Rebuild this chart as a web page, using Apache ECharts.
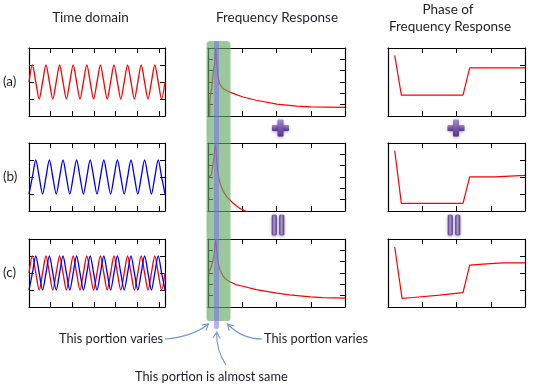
<!DOCTYPE html>
<html><head><meta charset="utf-8">
<script src="https://cdn.jsdelivr.net/npm/echarts@6/dist/echarts.min.js"></script>
<style>html,body{margin:0;padding:0;background:#fff}#c{width:534px;height:388px}</style>
</head><body><div id="c"></div>
<script>
// ---- data ----
const timeT = [0,0.157,0.314,0.471,0.628,0.785,0.942,1.100,1.257,1.414,1.571,1.728,1.885,2.042,2.199,2.356,2.513,2.670,2.827,2.985,3.142,3.299,3.456,3.613,3.770,3.927,4.084,4.241,4.398,4.555,4.712,4.869,5.027,5.184,5.341,5.498,5.655,5.812,5.969,6.126,6.283];
const timeRed  = [0,1,0,-1,0,1,0,-1,0,1,0,-1,0,1,0,-1,0,1,0,-1,0,1,0,-1,0,1,0,-1,0,1,0,-1,0,1,0,-1,0,1,0,-1,0];
const timeBlue = [-1,0,1,0,-1,0,1,0,-1,0,1,0,-1,0,1,0,-1,0,1,0,-1,0,1,0,-1,0,1,0,-1,0,1,0,-1,0,1,0,-1,0,1,0,-1];

const freqA_x = [0.05,0.058,0.108,0.146,0.195,0.224,0.254,0.292,0.341,0.437,0.633,1.02,1.41,2.01,2.59,3.0,4.0];
const freqA_y = [0,1.57,2.43,3.74,4.7,6.0,4.7,3.42,2.84,2.41,2.11,1.68,1.39,1.04,0.87,0.81,0.76];
const freqB_x = [0.03,0.1,0.166,0.195,0.224,0.254,0.283,0.32,0.37,0.437,0.545,0.633,0.72,0.83,0.92,1.02,1.14,1.3];
const freqB_y = [3.0,3.2,4.5,5.4,5.85,4.5,3.5,2.8,2.3,1.8,1.27,1.0,0.73,0.47,0.25,0.1,-0.06,-0.3];
const freqC_x = [0.02,0.087,0.137,0.18,0.224,0.254,0.29,0.341,0.437,0.516,0.633,0.81,1.02,1.41,2.01,2.38,2.99,3.35,4.0];
const freqC_y = [3.04,3.48,4.03,4.63,5.95,5.07,3.91,3.33,2.75,2.46,2.23,1.98,1.83,1.53,1.22,1.07,0.9,0.83,0.78];

const phaseA_x = [0.196,0.39,2.19,2.385,4.0];
const phaseA_y = [3.57,1.23,1.23,2.83,2.83];
const phaseB_x = [0.196,0.39,2.19,2.385,3.115,4.0];
const phaseB_y = [3.55,0.45,0.45,2.01,2.01,2.09];
const phaseC_x = [0.196,0.41,0.73,1.51,2.19,2.385,2.77,3.36,4.0];
const phaseC_y = [3.53,0.51,0.56,0.70,0.85,2.46,2.52,2.60,2.60];

const rowLabels = ['(a)','(b)','(c)'];
const colTitles = ['Time domain','Frequency Response','Phase of','Frequency Response'];
const notes = ['This portion varies','This portion varies','This portion is almost same'];

// ---- build ----
const zip = (xs, ys) => xs.map((x, i) => [x, ys[i]]);
const grids = [], xAxes = [], yAxes = [], series = [];
const rowTops = [48, 143, 239], H = 68;
const FONT = 'Lato, "Open Sans", sans-serif';

function axisBase(min, max, interval, position, gi, ticks) {
  return {
    gridIndex: gi, type: 'value', min, max, interval, position,
    axisLine: { show: true, onZero: false, lineStyle: { color: '#000', width: 1.2 } },
    axisTick: { show: ticks, inside: true, length: 5, lineStyle: { color: '#000', width: 1 } },
    axisLabel: { show: false }, splitLine: { show: false }
  };
}
function panel(left, width, top, xr, yr, leftTicks) {
  const gi = grids.length;
  grids.push({ left, top, width, height: H });
  const xi = xAxes.length, yi = yAxes.length;
  xAxes.push(axisBase(xr[0], xr[1], xr[2], 'bottom', gi, true));
  xAxes.push(axisBase(xr[0], xr[1], xr[2], 'top', gi, true));
  yAxes.push(axisBase(yr[0], yr[1], yr[2], 'left', gi, leftTicks));
  yAxes.push(axisBase(yr[0], yr[1], yr[2], 'right', gi, true));
  return { xi, yi };
}
function line(p, data, color, width, smooth) {
  series.push({
    type: 'line', xAxisIndex: p.xi, yAxisIndex: p.yi, data, symbol: 'none',
    smooth: smooth || false, clip: true, animation: false,
    lineStyle: { color, width }
  });
}
const RED = '#ff0000', BLUE = '#0000ff';
// time domain
const tA = panel(29, 136, rowTops[0], [0, 6.283, 1], [-2, 2, 1], true);
const tB = panel(29, 136, rowTops[1], [0, 6.283, 1], [-2, 2, 1], true);
const tC = panel(29, 136, rowTops[2], [0, 6.283, 1], [-2, 2, 1], true);
line(tA, zip(timeT, timeRed), RED, 1.3, 0.3);
line(tB, zip(timeT, timeBlue), BLUE, 1.3, 0.3);
line(tC, zip(timeT, timeRed), RED, 1.3, 0.3);
line(tC, zip(timeT, timeBlue), BLUE, 1.3, 0.3);
// frequency
const fA = panel(208, 137, rowTops[0], [0, 4, 1], [0, 6, 1], true);
const fB = panel(208, 137, rowTops[1], [0, 4, 1], [0, 6, 1], true);
const fC = panel(208, 137, rowTops[2], [0, 4, 1], [0, 6, 1], true);
line(fA, zip(freqA_x, freqA_y), RED, 1.2);
line(fB, zip(freqB_x, freqB_y), RED, 1.2);
line(fC, zip(freqC_x, freqC_y), RED, 1.2);
// phase
const pA = panel(388, 137, rowTops[0], [0, 4, 1], [0, 4, 1], false);
const pB = panel(388, 137, rowTops[1], [0, 4, 1], [0, 4, 1], false);
const pC = panel(388, 137, rowTops[2], [0, 4, 1], [0, 4, 1], false);
line(pA, zip(phaseA_x, phaseA_y), RED, 1.2);
line(pB, zip(phaseB_x, phaseB_y), RED, 1.2);
line(pC, zip(phaseC_x, phaseC_y), RED, 1.2);

// ---- graphics ----
const g = [];
function txt(text, x, y, size, align) {
  g.push({ type: 'text', z: 120, style: { text, x, y, font: size + 'px ' + FONT, fill: '#1e1e28',
    align: align || 'center', verticalAlign: 'middle', textAlign: align || 'center', textVerticalAlign: 'middle' } });
}
txt(colTitles[0], 90.5, 18, 13.5);
txt(colTitles[1], 277, 18, 13.5);
txt(colTitles[2], 448, 10, 13.5);
txt(colTitles[3], 450, 27, 13.5);
txt(rowLabels[0], 3, 82, 13.5, 'left');
txt(rowLabels[1], 3, 177, 13.5, 'left');
txt(rowLabels[2], 3, 273, 13.5, 'left');
txt(notes[0], 163, 339, 12.8, 'right');
txt(notes[1], 264, 339, 12.8, 'left');
txt(notes[2], 135, 377, 12.8, 'left');

// bands
g.push({ type: 'rect', z: 100, shape: { x: 206.5, y: 41, width: 24, height: 280, r: [4, 4, 3, 3] },
  style: { fill: 'rgba(100,170,100,0.65)' } });
g.push({ type: 'rect', z: 101, shape: { x: 214, y: 41, width: 5, height: 288, r: [2, 2, 2, 2] },
  style: { fill: 'rgba(120,110,235,0.55)' } });

// plus & equals icons
const purple = { type: 'linear', x: 0, y: 0, x2: 0, y2: 1,
  colorStops: [{ offset: 0, color: '#a88bd6' }, { offset: 0.5, color: '#7a57b0' }, { offset: 1, color: '#563885' }] };
const purpleV = { type: 'linear', x: 0, y: 0, x2: 1, y2: 0,
  colorStops: [{ offset: 0, color: '#5c3d8e' }, { offset: 0.45, color: '#b59ce0' }, { offset: 1, color: '#5c3d8e' }] };
function plus(cx, cy) {
  const sh = { shadowBlur: 3, shadowColor: 'rgba(0,0,0,0.35)', shadowOffsetY: 1 };
  g.push({ type: 'rect', z: 110, shape: { x: cx - 8.5, y: cy - 3, width: 17, height: 6, r: 1 }, style: Object.assign({ fill: purple }, sh) });
  g.push({ type: 'rect', z: 110, shape: { x: cx - 3, y: cy - 8.5, width: 6, height: 17, r: 1 }, style: Object.assign({ fill: purple }, sh) });
}
function equals(x, y) {
  const sh = { shadowBlur: 3, shadowColor: 'rgba(0,0,0,0.35)', shadowOffsetY: 1, stroke: '#5a3c8a', lineWidth: 0.6 };
  g.push({ type: 'rect', z: 110, shape: { x: x, y: y, width: 4.5, height: 20, r: 1 }, style: Object.assign({ fill: purpleV }, sh) });
  g.push({ type: 'rect', z: 110, shape: { x: x + 7.5, y: y, width: 4.5, height: 20, r: 1 }, style: Object.assign({ fill: purpleV }, sh) });
}
plus(280.5, 128);
plus(456, 128);
equals(272, 215);
equals(448, 215);

// arrows
const ACOL = '#6e98d0';
function arrow(x1, y1, cx, cy, x2, y2) {
  g.push({ type: 'bezierCurve', z: 115, shape: { x1, y1, x2, y2, cpx1: cx, cpy1: cy },
    style: { stroke: ACOL, lineWidth: 1.1, fill: null } });
  const dx = x2 - cx, dy = y2 - cy, L = Math.hypot(dx, dy), bx = -dx / L, by = -dy / L;
  const a = Math.PI / 6, len = 7, c = Math.cos(a), s = Math.sin(a);
  const p1 = [x2 + len * (bx * c - by * s), y2 + len * (bx * s + by * c)];
  const p2 = [x2 + len * (bx * c + by * s), y2 + len * (-bx * s + by * c)];
  g.push({ type: 'polyline', z: 115, shape: { points: [p1, [x2, y2], p2] },
    style: { stroke: ACOL, lineWidth: 1.1, fill: null } });
}
arrow(165, 339, 192, 337, 208.5, 324);
arrow(262, 339, 242, 339, 227.5, 324);
arrow(226, 365, 216, 350, 216.7, 332);

const chart = echarts.init(document.getElementById('c'), null, { renderer: 'canvas' });
chart.setOption({
  animation: false,
  backgroundColor: '#fff',
  grid: grids, xAxis: xAxes, yAxis: yAxes, series,
  graphic: { elements: g }
});
</script></body></html>
